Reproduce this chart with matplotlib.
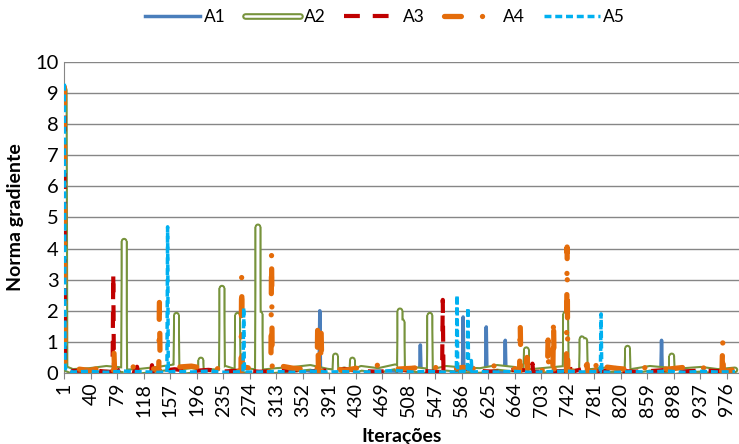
import matplotlib
matplotlib.use("Agg")
import matplotlib.pyplot as plt
import matplotlib.patheffects as pe

plt.rcParams['font.family'] = ['Lato', 'DejaVu Sans']

# iterations where the low "noise" level was read, every 25 iterations
base_iters = list(range(13, 1001, 25))

# start value, noise level, spike iterations and spike heights per series
a1_start = 9.2
a1_base = [0.10, 0.06, 0.12, 0.05, 0.08, 0.15, 0.06, 0.10, 0.04, 0.12,
           0.08, 0.05, 0.10, 0.14, 0.06, 0.09, 0.05, 0.12, 0.08, 0.06,
           0.10, 0.07, 0.15, 0.05, 0.09, 0.06, 0.12, 0.08, 0.05, 0.10,
           0.07, 0.12, 0.05, 0.08, 0.10, 0.06, 0.12, 0.05, 0.08, 0.10]
a1_spike_at = [377, 525, 588, 622, 650, 762, 880]
a1_spikes = [2.0, 0.9, 1.8, 1.48, 1.05, 1.15, 1.05]

a2_start = 9.1
a2_base = [0.05, 0.08, 0.15, 0.10, 0.06, 0.12, 0.20, 0.08, 0.05, 0.15,
           0.10, 0.22, 0.08, 0.12, 0.18, 0.06, 0.10, 0.15, 0.08, 0.20,
           0.12, 0.06, 0.15, 0.10, 0.08, 0.18, 0.12, 0.05, 0.10, 0.15,
           0.20, 0.08, 0.12, 0.06, 0.15, 0.10, 0.08, 0.12, 0.05, 0.10]
a2_spike_at = [89, 166, 202, 233, 256, 286, 289, 400, 425, 495, 498, 539,
               681, 739, 763, 767, 830, 895]
a2_spikes = [4.24, 1.86, 0.42, 2.73, 1.86, 4.7, 1.9, 0.55, 0.42, 2.0, 1.65, 1.86,
             0.75, 1.9, 1.1, 1.05, 0.8, 0.55]

a3_start = 9.2
a3_base = [0.06, 0.10, 0.04, 0.15, 0.08, 0.05, 0.12, 0.06, 0.10, 0.05,
           0.08, 0.04, 0.06, 0.10, 0.05, 0.08, 0.12, 0.06, 0.04, 0.08,
           0.10, 0.05, 0.08, 0.15, 0.06, 0.04, 0.10, 0.08, 0.05, 0.06,
           0.12, 0.05, 0.08, 0.04, 0.06, 0.10, 0.05, 0.08, 0.06, 0.04]
a3_spike_at = [73, 108, 130, 558, 690, 745]
a3_spikes = [3.2, 0.2, 0.25, 2.35, 0.3, 0.3]

a4_start = 9.2
a4_base = [0.15, 0.08, 0.20, 0.12, 0.25, 0.10, 0.18, 0.22, 0.12, 0.15,
           0.20, 0.10, 0.25, 0.15, 0.12, 0.20, 0.08, 0.18, 0.25, 0.12,
           0.15, 0.22, 0.10, 0.18, 0.12, 0.25, 0.15, 0.20, 0.10, 0.18,
           0.12, 0.22, 0.15, 0.10, 0.20, 0.12, 0.18, 0.15, 0.22, 0.12]
a4_spike_at = [74, 141, 262, 306, 374, 379, 672, 682, 713, 721, 741, 770, 783, 970]
a4_spikes = [0.7, 2.45, 3.1, 3.9, 1.65, 1.3, 1.6, 0.5, 1.06, 1.75, 4.05, 0.6, 0.5, 1.1]

a5_start = 9.3
a5_base = [0.03, 0.05, 0.02, 0.06, 0.04, 0.02, 0.05, 0.03, 0.06, 0.02,
           0.04, 0.03, 0.05, 0.02, 0.06, 0.03, 0.04, 0.02, 0.05, 0.08,
           0.03, 0.05, 0.02, 0.06, 0.04, 0.03, 0.05, 0.02, 0.04, 0.06,
           0.03, 0.05, 0.02, 0.04, 0.03, 0.06, 0.02, 0.05, 0.03, 0.04]
a5_spike_at = [153, 265, 579, 595, 600, 791]
a5_spikes = [4.7, 2.1, 2.5, 2.1, 0.4, 1.9]

labels = ['A1', 'A2', 'A3', 'A4', 'A5']
tick_iters = list(range(1, 1001, 39))


def series_xy(start, base, spike_at, spikes):
    pts = {1: start, 2: 0.15}
    for i, v in zip(base_iters, base):
        pts[i] = v
    for i, v in zip(spike_at, spikes):
        pts.setdefault(i - 1, 0.03)
        pts[i] = v
        pts.setdefault(i + 1, 0.03)
    xs = sorted(pts)
    return xs, [pts[i] for i in xs]


fig = plt.figure(figsize=(7.39, 4.44), dpi=100)
ax = fig.add_axes([0.0866, 0.16, 0.9134, 0.7004])

blue = '#4A7EBB'
green = '#77933C'
red = '#C00000'
orange = '#E46C0A'
cyan = '#00B0F0'

x, y = series_xy(a1_start, a1_base, a1_spike_at, a1_spikes)
l1, = ax.plot(x, y, color=blue, lw=2.5, solid_joinstyle='round', zorder=3)

# double line: green outer stroke, white core
x, y = series_xy(a2_start, a2_base, a2_spike_at, a2_spikes)
l2, = ax.plot(x, y, color='white', lw=1.8, solid_joinstyle='round',
              solid_capstyle='round', zorder=4,
              path_effects=[pe.Stroke(linewidth=4.8, foreground=green,
                                      joinstyle='round', capstyle='round'),
                            pe.Normal()])

x, y = series_xy(a3_start, a3_base, a3_spike_at, a3_spikes)
l3, = ax.plot(x, y, color=red, lw=3, dashes=(3.8, 3.1), zorder=5)

x, y = series_xy(a4_start, a4_base, a4_spike_at, a4_spikes)
l4, = ax.plot(x, y, color=orange, lw=3.8, dashes=(3.2, 4.0, 0.01, 4.0),
              dash_capstyle='round', zorder=6)

x, y = series_xy(a5_start, a5_base, a5_spike_at, a5_spikes)
l5, = ax.plot(x, y, color=cyan, lw=2.5, dashes=(2.0, 1.1), zorder=7)

ax.set_xlim(0.5, 994)
ax.set_ylim(0, 10)
ax.set_yticks(range(0, 11))
ax.set_xticks(tick_iters)
ax.set_xticklabels([str(t) for t in tick_iters], rotation=90, fontsize=14)
ax.tick_params(axis='y', labelsize=14.5, length=0, pad=4)
ax.tick_params(axis='x', length=4, color='#868686', pad=3)
ax.grid(axis='y', color='#868686', lw=1)
ax.set_axisbelow(True)
for s in ['top', 'right']:
    ax.spines[s].set_visible(False)
for s in ['left', 'bottom']:
    ax.spines[s].set_color('#868686')

ax.set_ylabel('Norma gradiente', fontsize=14, fontweight='bold', labelpad=8)
ax.set_xlabel('Iterações', fontsize=14, fontweight='bold', labelpad=8)

fig.legend([l1, l2, l3, l4, l5], labels,
           loc='center', bbox_to_anchor=(385 / 739, 1 - 17 / 444),
           ncol=5, frameon=False, fontsize=12.5, handlelength=3.2,
           handletextpad=0.2, columnspacing=1.1)

fig.savefig('out.png', dpi=100)
